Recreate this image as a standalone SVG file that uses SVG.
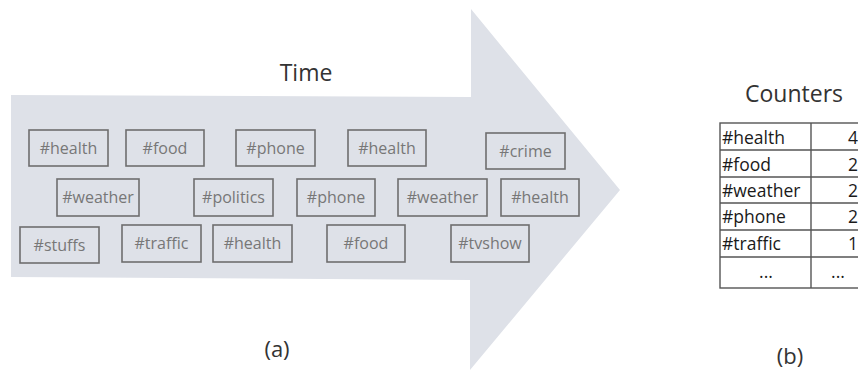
<svg xmlns="http://www.w3.org/2000/svg" width="858" height="371" viewBox="0 0 858 371">
<style>
.tag rect{fill:none;stroke:#6e6e6e;stroke-width:1.6}
.tag text{font-family:"Open Sans",sans-serif;font-size:16px;fill:#777;text-anchor:middle}
.title{font-family:"Open Sans",sans-serif;fill:#333;text-anchor:middle}
.cell{font-family:"Open Sans",sans-serif;font-size:17.5px;fill:#1a1a1a}
.grid{stroke:#555;stroke-width:1.4;fill:none}
</style>
<rect width="858" height="371" fill="#ffffff"/>
<g id="arrow">
<polygon points="11,95 471,97 471,9 620,190 470,370 470,280 11,277" fill="#dee1e8"/>
</g>
<text class="title" x="306" y="81" font-size="23">Time</text>
<text class="title" x="277" y="357" font-size="22">(a)</text>
<g id="t1" class="tag"><rect x="29" y="130" width="79" height="36"/><text x="68.5" y="154">#health</text></g>
<g id="t2" class="tag"><rect x="126" y="130" width="78" height="36"/><text x="165" y="154">#food</text></g>
<g id="t3" class="tag"><rect x="236" y="130" width="79" height="36"/><text x="275.5" y="154">#phone</text></g>
<g id="t4" class="tag"><rect x="348" y="130" width="78" height="36"/><text x="387" y="154">#health</text></g>
<g id="t5" class="tag"><rect x="486" y="133" width="79" height="36"/><text x="525.5" y="157">#crime</text></g>
<g id="t6" class="tag"><rect x="57" y="179" width="82" height="37"/><text x="98" y="203">#weather</text></g>
<g id="t7" class="tag"><rect x="194" y="179" width="79" height="37"/><text x="233.5" y="203">#politics</text></g>
<g id="t8" class="tag"><rect x="297" y="179" width="78" height="37"/><text x="336" y="203">#phone</text></g>
<g id="t9" class="tag"><rect x="398" y="179" width="89" height="37"/><text x="442.5" y="203">#weather</text></g>
<g id="t10" class="tag"><rect x="501" y="179" width="78" height="37"/><text x="540" y="203">#health</text></g>
<g id="t11" class="tag"><rect x="20" y="227" width="79" height="36"/><text x="59.5" y="251">#stuffs</text></g>
<g id="t12" class="tag"><rect x="122" y="225" width="79" height="37"/><text x="161.5" y="249">#traffic</text></g>
<g id="t13" class="tag"><rect x="213" y="225" width="79" height="37"/><text x="252.5" y="249">#health</text></g>
<g id="t14" class="tag"><rect x="327" y="225" width="78" height="37"/><text x="366" y="249">#food</text></g>
<g id="t15" class="tag"><rect x="451" y="225" width="78" height="37"/><text x="490" y="249">#tvshow</text></g>
<g id="connectors"></g>
<text class="title" x="794" y="102" font-size="23">Counters</text>
<g id="counters">
<rect class="grid" x="720" y="123" width="160" height="165"/>
<line class="grid" x1="811" y1="123" x2="811" y2="288"/>
<line class="grid" x1="720" y1="150" x2="858" y2="150"/>
<line class="grid" x1="720" y1="177" x2="858" y2="177"/>
<line class="grid" x1="720" y1="203" x2="858" y2="203"/>
<line class="grid" x1="720" y1="230" x2="858" y2="230"/>
<line class="grid" x1="720" y1="257" x2="858" y2="257"/>
<text class="cell" x="722" y="144">#health</text>
<text class="cell" x="722" y="171">#food</text>
<text class="cell" x="722" y="197">#weather</text>
<text class="cell" x="722" y="223">#phone</text>
<text class="cell" x="722" y="250">#traffic</text>
<text class="cell" x="848" y="144">4</text>
<text class="cell" x="848" y="171">2</text>
<text class="cell" x="848" y="197">2</text>
<text class="cell" x="848" y="223">2</text>
<text class="cell" x="848" y="250">1</text>
<text class="cell" x="766" y="278" text-anchor="middle">...</text>
<text class="cell" x="838" y="278" text-anchor="middle">...</text>
</g>
<text class="title" x="790" y="364" font-size="22">(b)</text>
</svg>
